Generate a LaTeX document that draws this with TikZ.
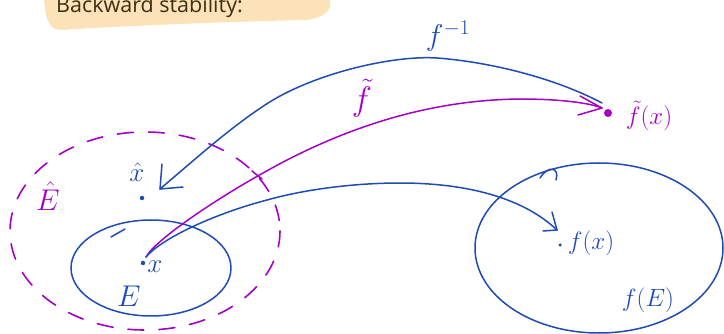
\RequirePackage{fix-cm}
\documentclass[tikz,border=0pt]{standalone}
\usepackage{fontspec}
\newfontfamily\titlefont{Open Sans}
\usetikzlibrary{arrows.meta}
\definecolor{inkblue}{RGB}{30,75,180}
\definecolor{inkmag}{RGB}{165,0,200}
\definecolor{peach}{RGB}{252,226,184}
\definecolor{titlebrown}{RGB}{60,46,16}
\tikzset{
  blueline/.style={draw=inkblue,line width=1.5pt,line cap=round,line join=round},
  magline/.style={draw=inkmag,line width=1.5pt,line cap=round,line join=round},
  dashline/.style={draw=inkmag,line width=1.6pt,line cap=round,dash pattern=on 16pt off 15pt},
  bluelabel/.style={text=inkblue,inner sep=0pt},
  maglabel/.style={text=inkmag,inner sep=0pt},
  dotmark/.style={circle,inner sep=0pt,minimum size=4.5pt},
}
\begin{document}
\begin{tikzpicture}[x=1pt,y=-1pt]
\useasboundingbox (0,0) rectangle (724,334);
% title highlight
\fill[peach] (44,0) -- (330,0) .. controls (332,10) and (325,18) .. (305,20)
  .. controls (220,22) and (120,26) .. (62,30) .. controls (50,30) and (46,22) .. (44,0) -- cycle;
\node[anchor=base west,inner sep=0pt,text=titlebrown,font=\titlefont\fontsize{21.5}{24}\selectfont] (title) at (56,13) {Backward stability:};

% sets
\draw[blueline] (151,268) ellipse [x radius=80, y radius=48];
\draw[blueline] (111,237) -- (125,229);
\draw[dashline] (145,231) ellipse [x radius=135, y radius=99];
\draw[blueline] (599,248) ellipse [x radius=124, y radius=85];
\draw[blueline] (540,178) .. controls (548,165) and (560,167) .. (556,180);

% points
\node[dotmark,fill=inkblue] (x) at (143,263) {};
\coordinate (xs) at (146,257);
\node[dotmark,fill=inkblue] (xhat) at (142,198) {};
\node[dotmark,fill=inkmag,minimum size=8pt] (ftx) at (608,113) {};
\node[dotmark,fill=inkblue,minimum size=3.5pt] (fx) at (560,245) {};

% labels
\node[bluelabel,font=\fontsize{27}{30}\selectfont] (xlab) at (155,267) {$x$};
\node[bluelabel,font=\fontsize{27}{30}\selectfont] (xhatlab) at (137,172) {$\hat{x}$};
\node[bluelabel,font=\fontsize{30}{32}\selectfont] (Elab) at (129,296) {$E$};
\node[maglabel,font=\fontsize{30}{32}\selectfont] (Ehatlab) at (48,196) {$\hat{E}$};
\node[bluelabel,font=\fontsize{25}{28}\selectfont] (fxlab) at (591,243) {$f(x)$};
\node[bluelabel,font=\fontsize{25}{28}\selectfont] (fElab) at (648,300) {$f(E)$};
\node[maglabel,font=\fontsize{25}{28}\selectfont] (ftxlab) at (649,116) {$\tilde{f}(x)$};
\node[bluelabel,font=\fontsize{30}{32}\selectfont] (finvlab) at (448,36) {$f^{-1}$};
\node[maglabel,font=\fontsize{34}{36}\selectfont] (ftlab) at (362,98) {$\tilde{f}$};

% f^{-1}: from f~(x) back to x-hat
\coordinate (finvstart) at (602,103);
\coordinate (finvend) at (160,189);
\draw[blueline] (finvstart) .. controls (555,78) and (490,62) .. (437,58)
  .. controls (390,55) and (310,75) .. (265,105)
  .. controls (230,128) and (200,155) .. (finvend);
\draw[blueline] (162,164) -- (finvend) -- (183,187);

% f~: from x to f~(x)
\coordinate (ftend) at (602,108);
\draw[magline] (xs) .. controls (155,240) and (220,195) .. (287,160)
  .. controls (340,133) and (420,100) .. (520,99)
  .. controls (560,99) and (590,103) .. (ftend);
\draw[magline] (580,96) -- (ftend) -- (578,115);
\draw[magline] (252,171) -- (262,179);

% f: from x to f(x)
\coordinate (fend) at (557,230);
\draw[blueline] (xs) .. controls (160,240) and (210,215) .. (267,200)
  .. controls (310,188) and (360,183) .. (400,183)
  .. controls (460,183) and (520,195) .. (fend);
\draw[blueline] (552,212) -- (fend) -- (543,231);
\end{tikzpicture}
\end{document}
